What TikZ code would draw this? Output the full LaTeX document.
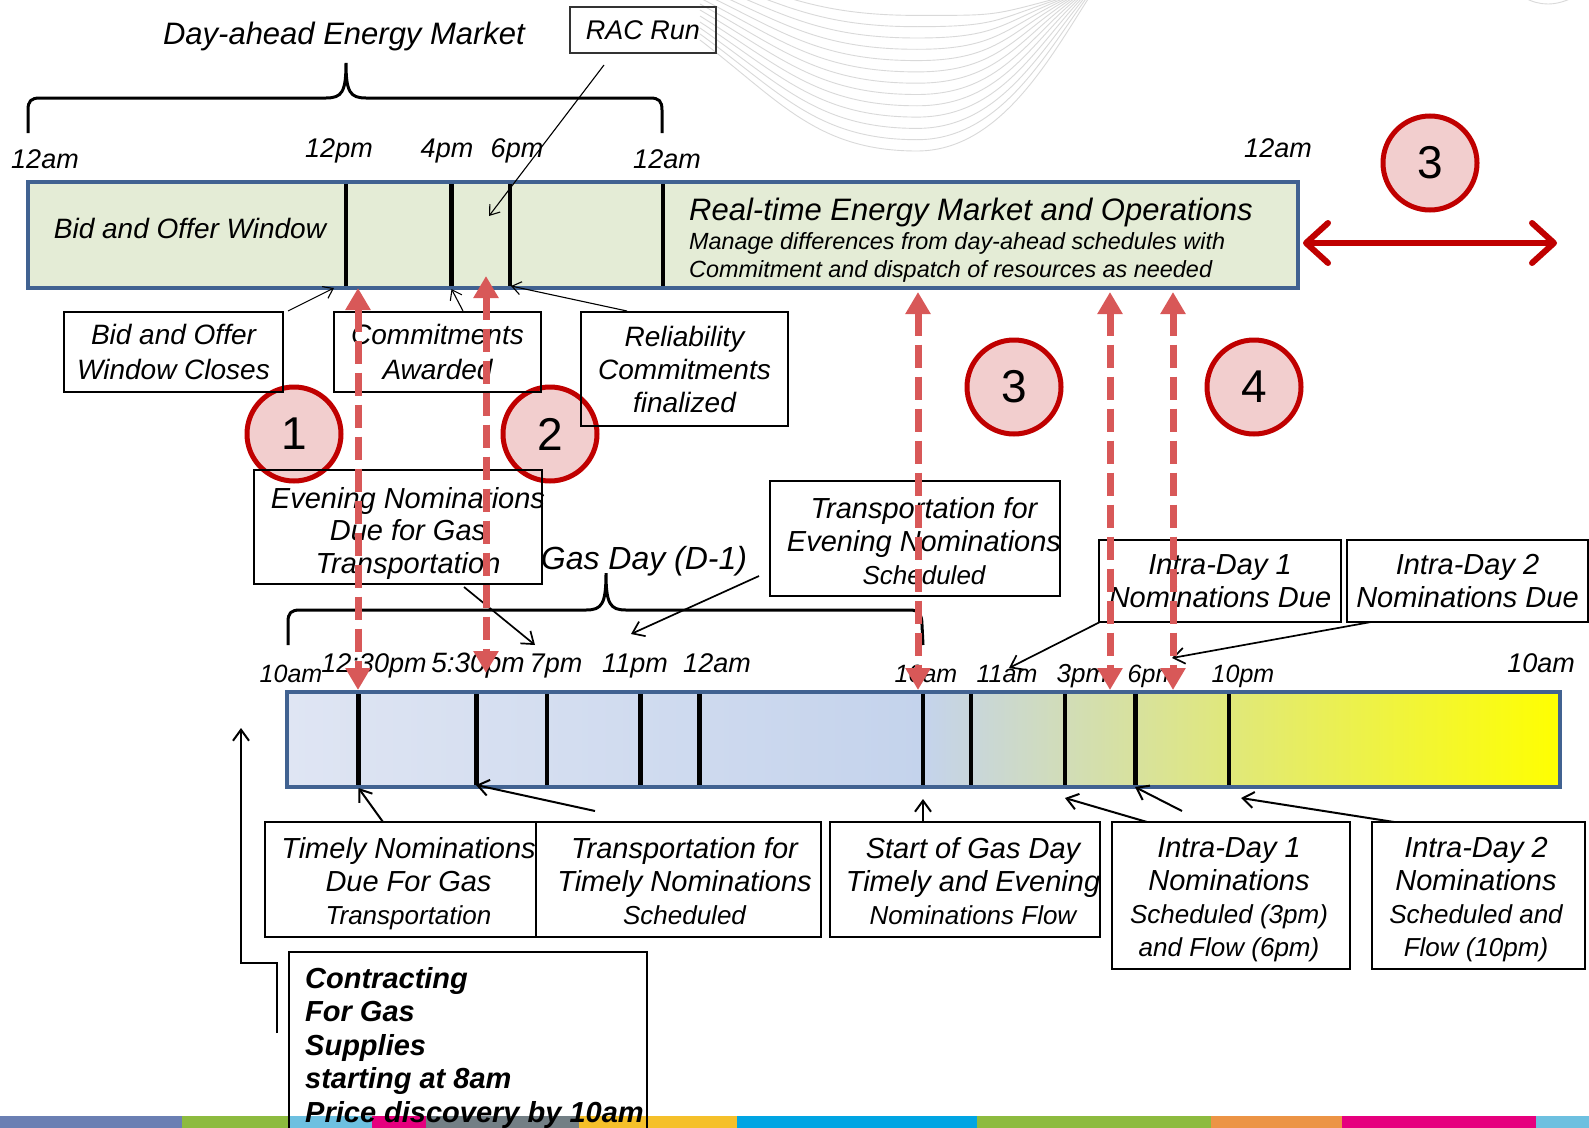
\documentclass[tikz,border=0pt]{standalone}
\usepackage{fontspec}
\setmainfont{Liberation Sans}
\usetikzlibrary{arrows.meta}
\definecolor{barborder}{RGB}{65,98,145}
\definecolor{dafill}{RGB}{228,236,214}
\definecolor{dashred}{RGB}{216,88,88}
\definecolor{darkred}{RGB}{192,0,0}
\definecolor{pinkfill}{RGB}{242,206,206}
\definecolor{gdA}{RGB}{223,229,243}
\definecolor{gdB}{RGB}{196,211,236}
\definecolor{gdC}{RGB}{255,255,0}
\definecolor{stA}{RGB}{107,127,179}
\definecolor{stB}{RGB}{141,187,63}
\definecolor{stC}{RGB}{109,192,224}
\definecolor{stD}{RGB}{230,0,126}
\definecolor{stE}{RGB}{115,127,133}
\definecolor{stF}{RGB}{245,192,42}
\definecolor{stG}{RGB}{0,165,227}
\definecolor{stH}{RGB}{236,148,69}
\newcommand{\fsz}[2][33]{\fontsize{#2}{#1}\selectfont}
\begin{document}
\begin{tikzpicture}[x=1pt,y=-1pt,
  every node/.style={inner sep=0, font={\itshape\fsz{29}}},
  lbl/.style={anchor=base, font={\itshape\fsz{27}}},
  lbls/.style={anchor=base, font={\itshape\fsz{25}}},
  bar/.style={draw=barborder, line width=4, inner sep=0},
  tick/.style={line width=4.2},
  brace/.style={line width=3},
  box/.style={draw, line width=1.5, align=center, font={\itshape\fsz[35]{28}}},
  bbox/.style={draw, line width=2.2, align=center, font={\itshape\fsz{29}}},
  btext/.style={align=center, font={\itshape\fsz{29}}},
  num/.style={circle, draw=darkred, line width=5, fill=pinkfill, minimum size=94, font={\fsz{46}}},
  thinarr/.style={-{Straight Barb[length=9pt,width=13pt]}, line width=1.1},
  thickarr/.style={-{Straight Barb[length=11pt,width=16pt]}, line width=2},
  reddash/.style={{Triangle[length=22pt,width=24pt]}-{Triangle[length=22pt,width=24pt]}, dashred, line width=7, dash pattern=on 23pt off 9pt},
  reddbl/.style={{Straight Barb[round,length=22pt,width=40pt]}-{Straight Barb[round,length=22pt,width=40pt]}, darkred, line width=6},
  swoosh/.style={black!15, line width=0.9}
]
\useasboundingbox[fill=white] (0,0) rectangle (1589,1127);

% background swoosh
\begin{scope}
\clip (0,0) rectangle (1589,1127);
\foreach \k in {0,...,12}{
  \pgfmathsetmacro{\sy}{40-6*\k}
  \pgfmathsetmacro{\by}{151-11.3*\k}
  \pgfmathsetmacro{\ex}{1090-2*\k}
  \draw[swoosh] (700,\sy) .. controls ({780},{\sy+0.55*(\by-\sy)}) and (817,\by) .. (917,\by)
     .. controls (1000,\by) and ({\ex-40-3*\k},{58-3.5*\k}) .. (\ex,-4);
}
\draw[swoosh] (1525,-2) .. controls (1540,6) and (1555,6) .. (1572,-2);
\end{scope}

% bottom colour stripe
\foreach \a/\b/\c in {0/182/stA,182/288/stB,288/372/stC,372/426/stD,426/579/stE,579/737/stF,737/977/stG,977/1211/stB,1211/1342/stH,1342/1536/stD,1536/1589/stC}
  \fill[\c] (\a,1116) rectangle (\b,1128);

% day-ahead bar
\node[bar, fill=dafill, minimum width=1270, minimum height=106] (dabar) at (663,235) {};
\foreach \x in {346,451.5,510,663} \draw[tick] (\x,184) -- (\x,286);
\node[anchor=base, font={\itshape\fsz{28}}] (bidwin) at (190,238) {Bid and Offer Window};
\node[anchor=base west, font={\itshape\fsz{31}}] (rttitle) at (689,220) {Real-time Energy Market and Operations};
\node[anchor=base west, font={\itshape\fsz{23.4}}] (rtsub1) at (689,249) {Manage differences from day-ahead schedules with};
\node[anchor=base west, font={\itshape\fsz{23.4}}] (rtsub2) at (689,277) {Commitment and dispatch of resources as needed};

% top time labels
\node[lbl] (t12am) at (45,168) {12am};
\node[lbl] (t12pm) at (339,157) {12pm};
\node[lbl] (t4pm) at (447,157) {4pm};
\node[lbl] (t6pm) at (517,157) {6pm};
\node[lbl] (t12amb) at (667,168) {12am};
\node[lbl] (t12amc) at (1278,157) {12am};

% day-ahead brace and title
\draw[brace] (28,133) -- (28,110) .. controls (28,101) and (31,98) .. (40,98) -- (326,98)
  .. controls (342,98) and (346,92) .. (346,63) .. controls (346,92) and (350,98) .. (366,98)
  -- (650,98) .. controls (659,98) and (662,101) .. (662,110) -- (662,133);
\node[anchor=base, font={\itshape\fsz{31}}] (datitle) at (344,44) {Day-ahead Energy Market};
\node[box, draw=black!80, minimum width=146, minimum height=46, font={\itshape\fsz{27}}] (rac) at (643,30) {RAC Run};

% gas day bar
\node[bar, left color=gdA, right color=gdC, middle color=gdB, minimum width=1273, minimum height=95] (gasbar) at (923.5,739.5) {};
\foreach \x in {358.5,476.5,547,640.5,699.5,923,971,1065,1135.5,1229} \draw[tick] (\x,694) -- (\x,785);

% gas day time labels
\node[lbls] (g10am) at (291,682) {10am};
\node[lbl] (g1230) at (374,672) {12:30pm};
\node[lbl, font={\itshape\fsz{28}}] (g530) at (478,672) {5:30pm};
\node[lbl] (g7pm) at (556,672) {7pm};
\node[lbl] (g11pm) at (635,672) {11pm};
\node[lbl] (g12am) at (717,672) {12am};
\node[lbls] (g10amb) at (926,682) {10am};
\node[lbls] (g11am) at (1007,682) {11am};
\node[lbls, font={\itshape\fsz{26}}] (g3pm) at (1082,682) {3pm};
\node[lbls] (g6pm) at (1152,682) {6pm};
\node[lbls] (g10pm) at (1243,682) {10pm};
\node[lbl] (g10amc) at (1541,672) {10am};

% gas day brace
\draw[brace] (288,645) -- (288,622) .. controls (288,613) and (291,610) .. (300,610) -- (586,610)
  .. controls (602,610) and (606,604) .. (606,573) .. controls (606,604) and (610,610) .. (626,610)
  -- (910,610) .. controls (919,610) and (922,615) .. (922,625) -- (923,645);
\node[anchor=base, font={\itshape\fsz{32}}] (gdtitle) at (644,569) {Gas Day (D-1)};

% numbered circles
\node[num] (c1) at (294,434) {1};
\node[num] (c2) at (550,434) {2};
\node[num] (c3a) at (1014,387) {3};
\node[num] (c4) at (1254,387) {4};
\node[num] (c3b) at (1430,163) {3};

% callout boxes (top)
\node[box, minimum width=219, minimum height=80] (bowc) at (173.5,352) {Bid and Offer\\Window Closes};
\node[box, minimum width=207, minimum height=80] (ca) at (437.5,352) {Commitments\\Awarded};
\node[box, minimum width=207, minimum height=114, font={\itshape\fsz{28}}] (rcf) at (684.5,369) {Reliability\\Commitments\\finalized};
\node[draw, line width=2, minimum width=288, minimum height=114] (enb) at (398,527) {};
\node[btext, font={\itshape\fsz[32.5]{29}}] (enbt) at (408,533) {Evening Nominations\\Due for Gas\\Transportation};
\node[draw, line width=2, minimum width=290, minimum height=115] (tfe) at (915,538.5) {};
\node[btext] (tfet) at (924,541.5) {Transportation for\\Evening Nominations\\{\fsz{26}Scheduled}};
\node[bbox, minimum width=242, minimum height=82, font={\itshape\fsz{29}}] (id1d) at (1220,581) {Intra-Day 1\\Nominations Due};
\node[bbox, minimum width=241, minimum height=82, font={\itshape\fsz{29}}] (id2d) at (1467.5,581) {Intra-Day 2\\Nominations Due};

% callout boxes (bottom)
\node[draw, line width=2.2, minimum width=271, minimum height=115] (tnd) at (400.5,879.5) {};
\node[btext] (tndt) at (408.5,883.5) {Timely Nominations\\Due For Gas\\{\fsz{26}Transportation}};
\node[draw, line width=2.2, minimum width=285, minimum height=115] (tft) at (678.5,879.5) {};
\node[btext] (tftt) at (684.5,881.5) {Transportation for\\Timely Nominations\\{\fsz{26}Scheduled}};
\node[draw, line width=2.2, minimum width=270, minimum height=115] (sgd) at (965,879.5) {};
\node[btext] (sgdt) at (973,881.5) {Start of Gas Day\\Timely and Evening\\{\fsz{26}Nominations Flow}};
\node[draw, line width=2.2, minimum width=238, minimum height=147] (id1s) at (1231,895.5) {};
\node[btext] (id1st) at (1229,899.5) {Intra-Day 1\\Nominations\\{\fsz{26}Scheduled (3pm)}\\{\fsz{26}and Flow (6pm)}};
\node[draw, line width=2.2, minimum width=213, minimum height=147] (id2s) at (1478.5,895.5) {};
\node[btext] (id2st) at (1476,899.5) {Intra-Day 2\\Nominations\\{\fsz{26}Scheduled and}\\{\fsz{26}Flow (10pm)}};

% contracting box
\draw[line width=2.2] (289,1135) -- (289,952) -- (647,952) -- (647,1135);
\node[anchor=north west, align=left, font={\bfseries\itshape\fsz[33.5]{29}}] (contr) at (305,967) {Contracting\\For Gas\\Supplies\\starting at 8am\\Price discovery by 10am};

% thin connectors
\coordinate (racs) at (604,65);   \coordinate (ract) at (489,216);
\coordinate (bows) at (288,311);  \coordinate (bowt) at (334,288);
\coordinate (cas) at (463,311);   \coordinate (cat) at (451.5,289);
\coordinate (rcs) at (627,311);   \coordinate (rct) at (511,286);
\draw[thinarr] (racs) -- (ract);
\draw[thinarr] (bows) -- (bowt);
\draw[thinarr] (cas) -- (cat);
\draw[thinarr] (rcs) -- (rct);

\coordinate (ens) at (464,587);   \coordinate (ent) at (535,645);
\coordinate (gds) at (759,576);   \coordinate (gdt) at (631,634);
\coordinate (i1s) at (1100,622);  \coordinate (i1t) at (1009,668);
\coordinate (i2s) at (1371,622);  \coordinate (i2t) at (1172,658);
\draw[thickarr, line width=1.7] (ens) -- (ent);
\draw[thickarr, line width=1.7] (gds) -- (gdt);
\draw[thickarr, line width=1.7] (i1s) -- (i1t);
\draw[thickarr, line width=1.7] (i2s) -- (i2t);

\coordinate (tns) at (383,822);   \coordinate (tnt) at (358.5,788);
\coordinate (tfs) at (595,811);   \coordinate (tft2) at (476,785);
\coordinate (sgs) at (923,822);   \coordinate (sgt) at (923,799);
\coordinate (a1s) at (1147,822);  \coordinate (a1t) at (1065,798);
\coordinate (b1s) at (1182,811);  \coordinate (b1t) at (1135,787);
\coordinate (a2s) at (1394,822);  \coordinate (a2t) at (1241,798);
\draw[thickarr] (tns) -- (tnt);
\draw[thickarr] (tfs) -- (tft2);
\draw[thickarr] (sgs) -- (sgt);
\draw[thickarr] (a1s) -- (a1t);
\draw[thickarr] (b1s) -- (b1t);
\draw[thickarr] (a2s) -- (a2t);

\coordinate (cs) at (277,1033); \coordinate (ct) at (241,728);
\draw[thickarr] (cs) -- (277,963) -- (241,963) -- (ct);

% red dashed double arrows
\foreach \x/\t/\b/\n in {358/288/690/r1, 486/276/673/r2, 918/292/690/r3, 1110/292/690/r4, 1173/292/690/r5}{
  \coordinate (\n t) at (\x,\t); \coordinate (\n b) at (\x,\b);
  \draw[reddash] (\n t) -- (\n b);
}

% red double arrow
\coordinate (rdl) at (1303,243); \coordinate (rdr) at (1557,243);
\draw[reddbl] (rdl) -- (rdr);
\end{tikzpicture}
\end{document}
